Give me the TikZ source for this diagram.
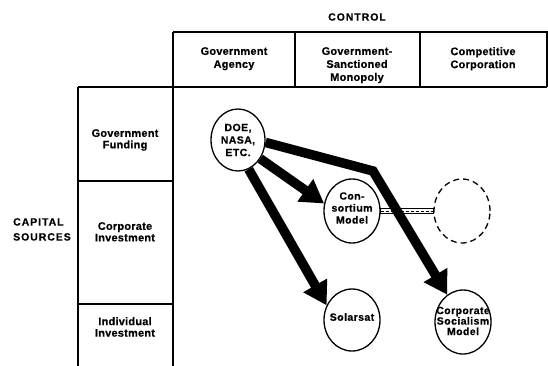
\documentclass[tikz,border=0pt]{standalone}
\usepackage{fontspec}
\setmainfont{Liberation Sans}
\newfontfamily\tablefont[LetterSpace=2,FakeBold=0.4]{Liberation Sans Bold}
\newfontfamily\ovalfont[LetterSpace=4,FakeBold=0.4]{Liberation Sans Bold}
\newfontfamily\capsfont[LetterSpace=9,FakeBold=0.4]{Liberation Sans Bold}
\usetikzlibrary{arrows.meta,shapes.geometric,calc}

\begin{document}
\begin{tikzpicture}[x=1pt,y=-1pt,
  grid/.style={line width=1.4pt},
  hdr/.style={anchor=north, inner sep=0pt, align=center,
    font=\tablefont\fontsize{11}{13}\selectfont},
  side/.style={anchor=north, inner sep=0pt, align=center,
    font=\tablefont\fontsize{11}{11.5}\selectfont},
  oval/.style={ellipse, draw, line width=1.3pt, inner sep=0pt,
    minimum width=56pt, minimum height=64pt},
  otext/.style={inner sep=0pt, align=center,
    font=\ovalfont\fontsize{10.5}{12}\selectfont},
  flow/.style={line width=9.5pt, line join=miter,
    -{Triangle[length=23pt,width=26pt]}},
]
\useasboundingbox (0,0) rectangle (548,366);

% table frame
\draw[grid] (173,32) -- (547,32) -- (547,87);
\draw[grid] (173,32) -- (173,366);
\draw[grid] (78,87) -- (547,87);
\draw[grid] (295,32) -- (295,87);
\draw[grid] (420,32) -- (420,87);
\draw[grid] (78,87) -- (78,366);
\draw[grid] (78,181) -- (173,181);
\draw[grid] (78,304) -- (173,304);

% axis titles
\node[font=\capsfont\fontsize{10.5}{12}\selectfont] (control) at (357,17) {CONTROL};
\node[anchor=north west, inner sep=0pt, align=left,
  font=\capsfont\fontsize{10.5}{15}\selectfont] (capital) at (13,218) {CAPITAL\\SOURCES};

% column headers
\node[hdr] (hagency) at (234,47) {Government\\Agency};
\node[hdr] (hmono) at (357,47) {Government-\\Sanctioned\\Monopoly};
\node[hdr] (hcorp) at (483,47) {Competitive\\Corporation};

% row headers
\node[side] (sgov) at (125,129) {Government\\Funding};
\node[side] (scorp) at (125,222) {Corporate\\Investment};
\node[side] (sind) at (125,317) {Individual\\Investment};

% models
\node[oval, minimum width=54pt, minimum height=62pt] (doe) at (238,140) {};
\node[oval] (cons) at (352,211) {};
\node[oval, dash pattern=on 6pt off 4pt] (future) at (462,211) {};
\node[oval, minimum height=62pt] (solar) at (352,320) {};
\node[oval] (csm) at (463,322) {};

\node[otext, font=\ovalfont\fontsize{10.5}{12.5}\selectfont] (doetxt) at (doe) {DOE,\\NASA,\\ETC.};
\node[otext] (constxt) at ($(cons)+(0,-3)$) {Con-\\sortium\\Model};
\node[otext] (solartxt) at ($(solar)+(0,-3)$) {Solarsat};
\node[otext, font=\ovalfont\fontsize{10.5}{10.5}\selectfont] (csmtxt) at ($(csm)+(0,-1)$) {Corporate\\Socialism\\Model};

% link to the open slot
\draw[line width=0.8pt] ($(cons.east)+(0,-2.5)$) rectangle ($(future.west)+(0,2.5)$);
\draw[line width=0.6pt, dash pattern=on 3pt off 2pt] (cons.east) -- (future.west);

% flows
\coordinate (bend) at (373,171);
\draw[flow] (doe.-40) -- (cons.165);
\draw[flow] (doe.-70) -- (solar.150);
\draw[flow] (doe.-5) -- (bend) -- (csm.120);
\end{tikzpicture}
\end{document}
